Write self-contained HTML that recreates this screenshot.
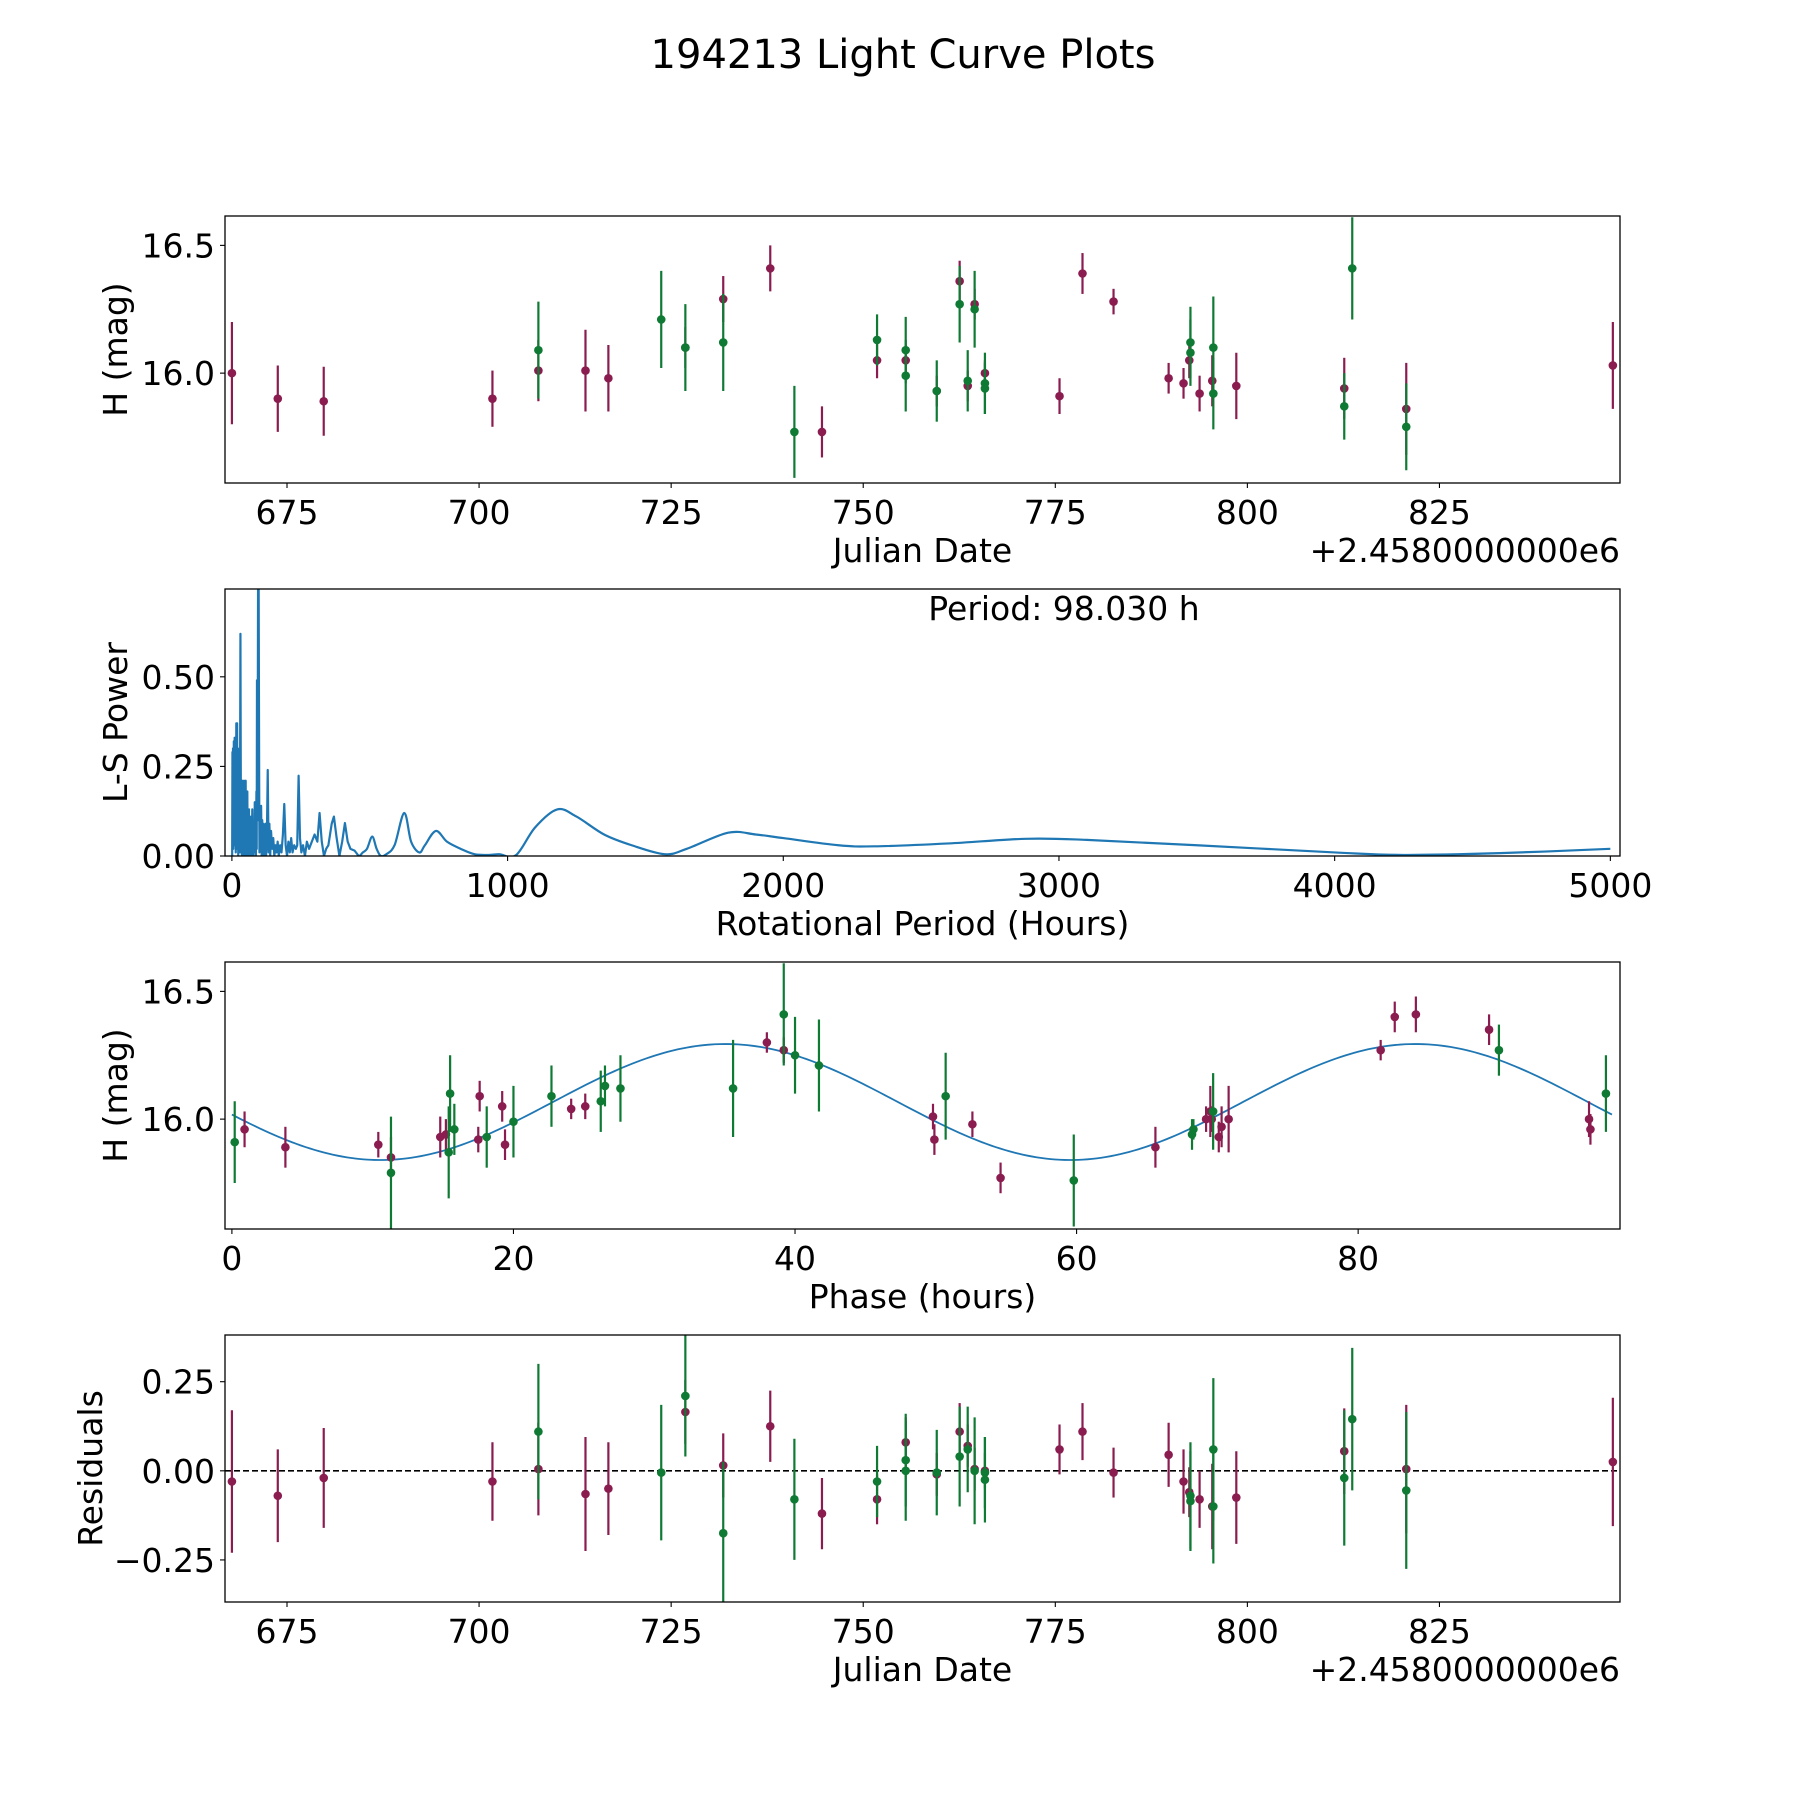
<!DOCTYPE html>
<html><head><meta charset="utf-8"><style>
body{margin:0;background:#fff}
svg text{font-family:"DejaVu Sans","Liberation Sans",sans-serif;fill:#000}
</style></head><body>
<svg id="fig" xmlns="http://www.w3.org/2000/svg" width="1800" height="1800" viewBox="0 0 1800 1800">
<rect width="1800" height="1800" fill="#fff"/>
<text x="903" y="68" font-size="40" text-anchor="middle">194213 Light Curve Plots</text>
</svg>
<script>
// ---- Panel 1: light curve ----
const lcMaroonDate=[667.83,673.80,679.78,701.74,707.72,713.85,716.83,726.85,731.78,737.90,744.63,751.80,755.53,759.57,762.55,763.60,764.50,765.84,775.55,778.54,782.58,789.75,791.69,792.44,793.78,795.43,798.56,812.61,820.68,847.57];
const lcMaroonMag=[16.00,15.90,15.89,15.90,16.01,16.01,15.98,16.10,16.29,16.41,15.77,16.05,16.05,15.93,16.36,15.95,16.27,16.00,15.91,16.39,16.28,15.98,15.96,16.05,15.92,15.97,15.95,15.94,15.86,16.03];
const lcMaroonErr=[0.20,0.13,0.135,0.11,0.12,0.16,0.13,0.08,0.09,0.09,0.10,0.07,0.06,0.06,0.08,0.06,0.06,0.05,0.07,0.08,0.05,0.06,0.06,0.07,0.07,0.10,0.13,0.12,0.18,0.17];
const lcGreenDate=[707.72,723.71,726.85,731.78,741.04,751.80,755.53,755.53,759.57,762.55,763.60,764.50,765.84,765.84,792.59,792.59,795.57,795.57,812.61,813.65,820.68];
const lcGreenMag=[16.09,16.21,16.10,16.12,15.77,16.13,16.09,15.99,15.93,16.27,15.97,16.25,15.96,15.94,16.12,16.08,16.10,15.92,15.87,16.41,15.79];
const lcGreenErr=[0.19,0.19,0.17,0.19,0.18,0.10,0.13,0.14,0.12,0.15,0.12,0.15,0.12,0.10,0.14,0.13,0.20,0.14,0.13,0.20,0.17];
// ---- Panel 2: periodogram ----
const lsPeriod=[1,2,3,4,5,7,8,10,11,13,14,16,17,19,20,22,23,25,26,28,29,31,32,33,35,36,38,39,41,42,44,45,47,48,50,51,53,54,56,57,59,60,62,63,65,66,68,69,71,72,74,75,77,78,80,81,83,84,86,87,89,90,91,93,95,97,99,100,102,104,106,108,110,112,114,116,118,120,122,124,127,130,133,136,139,142,146,150,154,158,162,166,170,175,180,185,190,195,200,205,210,215,220,226,232,237,242,247,252,258,265,272,280,290,300,310,318,326,334,342,350,362,370,380,390,400,410,420,430,445,460,475,490,509,525,540,560,590,625,650,680,700,740,780,830,880,930,970,1030,1100,1180,1250,1350,1450,1570,1650,1800,1900,2000,2200,2330,2600,2880,3100,3500,4000,4250,4600,5000];
const lsPower=[0.0,0.29,0.05,0.30,0.02,0.32,0.03,0.33,0.06,0.33,0.01,0.37,0.10,0.37,0.02,0.30,0.0,0.18,0.05,0.12,0.01,0.62,0.30,0.02,0.16,0.0,0.21,0.03,0.12,0.0,0.21,0.02,0.09,0.0,0.21,0.01,0.14,0.0,0.18,0.03,0.10,0.0,0.13,0.01,0.11,0.0,0.09,0.02,0.11,0.0,0.13,0.02,0.09,0.0,0.08,0.01,0.15,0.02,0.10,0.0,0.18,0.02,0.49,0.10,0.78,0.78,0.20,0.01,0.10,0.02,0.14,0.0,0.10,0.02,0.09,0.0,0.07,0.01,0.09,0.0,0.06,0.24,0.01,0.09,0.0,0.07,0.02,0.05,0.0,0.03,0.01,0.04,0.0,0.03,0.01,0.06,0.145,0.03,0.0,0.04,0.01,0.05,0.01,0.03,0.02,0.03,0.224,0.05,0.01,0.03,0.0,0.04,0.02,0.04,0.06,0.04,0.12,0.04,0.0,0.02,0.03,0.09,0.11,0.05,0.0,0.04,0.092,0.04,0.02,0.015,0.0,0.01,0.02,0.054,0.02,0.0,0.005,0.03,0.12,0.04,0.01,0.03,0.07,0.04,0.02,0.005,0.003,0.005,0.002,0.08,0.13,0.11,0.06,0.03,0.005,0.02,0.065,0.06,0.05,0.03,0.027,0.035,0.048,0.045,0.03,0.01,0.003,0.008,0.02];
const periodLabel="Period: 98.030 h";
// ---- Panel 3: phase folded ----
const phMaroonPhase=[0.9,3.8,10.4,11.3,14.8,15.2,17.5,17.6,19.2,19.4,24.1,25.1,38.0,39.2,49.8,49.9,52.6,54.6,65.6,69.2,69.5,69.6,70.1,70.3,70.8,81.6,82.6,84.1,89.3,96.4,96.5];
const phMaroonMag=[15.96,15.89,15.90,15.85,15.93,15.94,15.92,16.09,16.05,15.90,16.04,16.05,16.30,16.27,16.01,15.92,15.98,15.77,15.89,16.00,16.03,16.00,15.93,15.97,16.00,16.27,16.40,16.41,16.35,16.00,15.96];
const phMaroonErr=[0.07,0.08,0.05,0.08,0.08,0.06,0.05,0.06,0.06,0.06,0.04,0.05,0.04,0.05,0.05,0.06,0.05,0.06,0.08,0.05,0.10,0.05,0.06,0.08,0.13,0.04,0.06,0.07,0.06,0.07,0.06];
const phGreenPhase=[0.2,11.3,15.4,15.5,15.8,18.1,20.0,22.7,26.2,26.5,27.6,35.6,39.2,40.0,41.7,50.7,59.8,68.2,68.3,69.7,90.0,97.6];
const phGreenMag=[15.91,15.79,15.87,16.10,15.96,15.93,15.99,16.09,16.07,16.13,16.12,16.12,16.41,16.25,16.21,16.09,15.76,15.94,15.96,16.03,16.27,16.10];
const phGreenErr=[0.16,0.22,0.18,0.15,0.10,0.12,0.14,0.12,0.12,0.08,0.13,0.19,0.20,0.15,0.18,0.17,0.18,0.06,0.04,0.15,0.10,0.15];
const fitParams=[16.067,0.227,22.8,49.015]; // mean, amplitude, phase offset, half-period
const fitPeriod=98.03;
// ---- Panel 4: residuals ----
const resMaroonRes=[-0.03,-0.07,-0.02,-0.03,0.005,-0.065,-0.05,0.165,0.015,0.125,-0.12,-0.08,0.08,-0.01,0.11,0.07,0.005,0.0,0.06,0.11,-0.005,0.045,-0.03,-0.06,-0.08,-0.10,-0.075,0.055,0.005,0.025];
const resMaroonErr=[0.20,0.13,0.14,0.11,0.13,0.16,0.13,0.09,0.09,0.10,0.10,0.07,0.07,0.06,0.08,0.06,0.06,0.05,0.07,0.08,0.07,0.09,0.09,0.07,0.08,0.12,0.13,0.12,0.18,0.18];
const resGreenRes=[0.11,-0.005,0.21,-0.175,-0.08,-0.03,0.03,0.0,-0.005,0.04,0.06,0.0,-0.025,-0.005,-0.07,-0.085,0.06,-0.10,-0.02,0.145,-0.055];
const resGreenErr=[0.19,0.19,0.17,0.20,0.17,0.10,0.13,0.14,0.12,0.14,0.12,0.15,0.12,0.10,0.15,0.14,0.20,0.16,0.19,0.20,0.22];

const MAROON="#8a1c50", GREEN="#0f7a33", BLUE="#1f77b4";
const FS=33;
const svg=document.getElementById('fig');
const NS="http://www.w3.org/2000/svg";
const L=225,R=1620,H=267;
function mk(tag,attrs,parent){const e=document.createElementNS(NS,tag);for(const k in attrs)e.setAttribute(k,attrs[k]);(parent||svg).appendChild(e);return e;}
function scale(d0,d1,r0,r1){return v=>r0+(v-d0)*(r1-r0)/(d1-d0);}

function panel(name,top,xlim,ylim,xticks,xtl,yticks,ytl,xlabel,ylabel,offset,ylabX){
  const g=mk('g',{});
  
  
  const x=scale(xlim[0],xlim[1],L,R), y=scale(ylim[0],ylim[1],top+H,top);
  const clipId='c'+name;
  const cp=mk('clipPath',{id:clipId},g);mk('rect',{x:L,y:top,width:R-L,height:H},cp);
  const plot=mk('g',{'clip-path':'url(#'+clipId+')'},g);
  
  
  xticks.forEach((t,i)=>{const px=x(t);
    mk('line',{x1:px,x2:px,y1:top+H,y2:top+H+5,stroke:'#000','stroke-width':1.1},g);
    const tx=mk('text',{x:px,y:top+H+41,'font-size':FS,'text-anchor':'middle'},g);tx.textContent=xtl[i];
    
    });
  yticks.forEach((t,i)=>{const py=y(t);
    mk('line',{x1:L-5,x2:L,y1:py,y2:py,stroke:'#000','stroke-width':1.1},g);
    const tx=mk('text',{x:L-10,y:py+12,'font-size':FS,'text-anchor':'end'},g);tx.textContent=ytl[i];
    
    });
  const xl=mk('text',{x:(L+R)/2,y:top+H+79,'font-size':FS,'text-anchor':'middle'},g);xl.textContent=xlabel;
  
  
  const yl=mk('text',{x:0,y:0,'font-size':FS,'text-anchor':'middle',transform:`translate(${ylabX||127},${top+H/2}) rotate(-90)`},g);yl.textContent=ylabel;
  
  
  if(offset){const o=mk('text',{x:R,y:top+H+79,'font-size':FS,'text-anchor':'end'},g);o.textContent=offset;
    
    }
  return {g,plot,x,y,top};
}
function frame(p){const f=mk('rect',{x:L,y:p.top,width:R-L,height:H,fill:'none',stroke:'#000','stroke-width':1.3},p.g);
  
  }
function errpts(p,xs,ys,es,color,nm){
  xs.forEach((v,i)=>{const px=p.x(v);
    const ln=mk('line',{x1:px,x2:px,y1:p.y(ys[i]-es[i]),y2:p.y(ys[i]+es[i]),stroke:color,'stroke-width':2.2},p.plot);
    
    
    const c=mk('circle',{cx:px,cy:p.y(ys[i]),r:4.3,fill:color},p.plot);
    
    });
}
const panelTops=[216,589,962,1335];
const dateXlim=[666.93,848.5], magYlim=[15.57,16.615];
const dateTicks=[675,700,725,750,775,800,825];
// Panel 1
const p1=panel('light-curve-panel',panelTops[0],dateXlim,magYlim,dateTicks,dateTicks.map(String),[16.0,16.5],['16.0','16.5'],'Julian Date','H (mag)','+2.4580000000e6');
errpts(p1,lcMaroonDate,lcMaroonMag,lcMaroonErr,MAROON,'maroon');
errpts(p1,lcGreenDate,lcGreenMag,lcGreenErr,GREEN,'green');
frame(p1);
// Panel 2
const p2=panel('periodogram-panel',panelTops[1],[-25,5035],[0,0.745],[0,1000,2000,3000,4000,5000],['0','1000','2000','3000','4000','5000'],[0,0.25,0.5],['0.00','0.25','0.50'],'Rotational Period (Hours)','L-S Power');
const P=lsPeriod.map((v,i)=>[p2.x(v),p2.y(lsPower[i])]);
const split=lsPeriod.findIndex(v=>v>=460);
let d='M'+P[0][0]+','+P[0][1];
for(let i=1;i<=split;i++)d+=' L'+P[i][0]+','+P[i][1];
for(let i=split;i<P.length-1;i++){
  const p0=P[Math.max(i-1,0)],p1_=P[i],p2_=P[i+1],p3=P[Math.min(i+2,P.length-1)];
  const c1=[p1_[0]+(p2_[0]-p0[0])/6,p1_[1]+(p2_[1]-p0[1])/6];
  const c2=[p2_[0]-(p3[0]-p1_[0])/6,p2_[1]-(p3[1]-p1_[1])/6];
  d+=` C${c1[0]},${c1[1]} ${c2[0]},${c2[1]} ${p2_[0]},${p2_[1]}`;
}
const pl=mk('path',{d:d,fill:'none',stroke:BLUE,'stroke-width':2.2,'stroke-linejoin':'round'},p2.plot);


const pt=mk('text',{x:1064,y:620,'font-size':FS,'text-anchor':'middle'},p2.g);pt.textContent=periodLabel;


frame(p2);
// Panel 3
const p3=panel('phase-panel',panelTops[2],[-0.49,98.6],magYlim,[0,20,40,60,80],['0','20','40','60','80'],[16.0,16.5],['16.0','16.5'],'Phase (hours)','H (mag)');
const fitPts=[];for(let k=0;k<=300;k++){const ph=fitPeriod*k/300;fitPts.push(p3.x(ph)+','+p3.y(fitParams[0]+fitParams[1]*Math.sin(2*Math.PI*(ph-fitParams[2])/fitParams[3])));}
const fl=mk('polyline',{points:fitPts.join(' '),fill:'none',stroke:BLUE,'stroke-width':1.8},p3.plot);


errpts(p3,phMaroonPhase,phMaroonMag,phMaroonErr,MAROON,'maroon');
errpts(p3,phGreenPhase,phGreenMag,phGreenErr,GREEN,'green');
frame(p3);
// Panel 4
const p4=panel('residuals-panel',panelTops[3],dateXlim,[-0.368,0.381],dateTicks,dateTicks.map(String),[-0.25,0,0.25],['\u22120.25','0.00','0.25'],'Julian Date','Residuals','+2.4580000000e6',102);
const zl=mk('line',{x1:L,x2:R,y1:p4.y(0),y2:p4.y(0),stroke:'#000','stroke-width':1.6,'stroke-dasharray':'6,3'},p4.plot);


errpts(p4,lcMaroonDate,resMaroonRes,resMaroonErr,MAROON,'maroon');
errpts(p4,lcGreenDate,resGreenRes,resGreenErr,GREEN,'green');
frame(p4);
</script>
</body></html>
